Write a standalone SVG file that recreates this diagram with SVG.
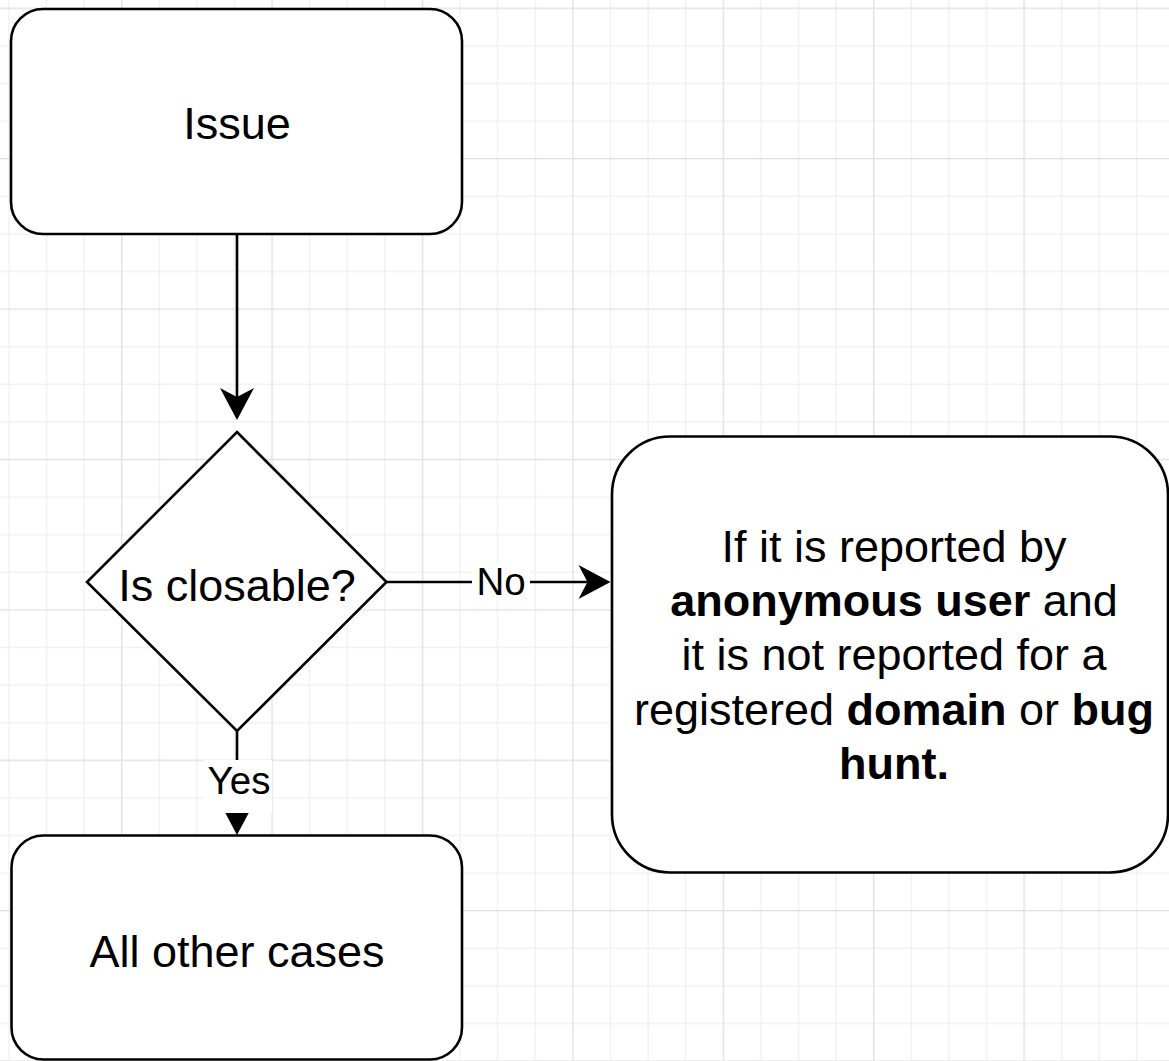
<svg xmlns="http://www.w3.org/2000/svg" width="1169" height="1061" viewBox="0 0 1169 1061">
  <style>
    .node { fill: #ffffff; stroke: #000000; stroke-width: 2.6; }
    .edge { fill: none; stroke: #000000; stroke-width: 2.6; }
    .label { font-family: "Liberation Sans", Arial, Helvetica, sans-serif; fill: #000000; text-anchor: middle; }
    .big { font-size: 45px; }
    .small { font-size: 38.5px; }
    .b { font-weight: bold; }
    .bg { fill: #ffffff; stroke: none; }
  </style>
  <defs>
    <!-- drawing-board grid: minor every 37.6, major every 4th -->
    <pattern id="grid" patternUnits="userSpaceOnUse" x="121" y="7.6" width="150.4" height="150.4">
      <rect x="0" y="0" width="150.4" height="150.4" fill="#ffffff"/>
      <rect x="37.6" y="0" width="1.4" height="150.4" fill="#f1f1f1"/>
      <rect x="75.2" y="0" width="1.4" height="150.4" fill="#f1f1f1"/>
      <rect x="112.8" y="0" width="1.4" height="150.4" fill="#f1f1f1"/>
      <rect x="0" y="37.6" width="150.4" height="1.4" fill="#f1f1f1"/>
      <rect x="0" y="75.2" width="150.4" height="1.4" fill="#f1f1f1"/>
      <rect x="0" y="112.8" width="150.4" height="1.4" fill="#f1f1f1"/>
      <rect x="0" y="0" width="1.4" height="150.4" fill="#e2e2e2"/>
      <rect x="0" y="0" width="150.4" height="1.4" fill="#e2e2e2"/>
    </pattern>
    <!-- classic arrowhead, reference point at the notch -->
    <marker id="arrow" markerUnits="userSpaceOnUse" markerWidth="34" markerHeight="36" refX="9" refY="17" orient="auto" overflow="visible">
      <path d="M0,0 L32,17 L0,34 L9,17 Z" fill="#000000" stroke="none"/>
    </marker>
  </defs>

  <rect x="0" y="0" width="1169" height="1061" fill="url(#grid)"/>

  <g id="connectors">
    <path id="edge-issue-closable" class="edge" d="M237,234 L237,397" marker-end="url(#arrow)"/>
    <g id="edge-no">
      <path class="edge" d="M386.5,582 L587.5,582" marker-end="url(#arrow)"/>
      <rect class="bg" x="472" y="565" width="58" height="36"/>
      <text class="label small" x="501" y="595">No</text>
    </g>
    <g id="edge-yes">
      <path class="edge" d="M237,731 L237,812" marker-end="url(#arrow)"/>
      <rect class="bg" x="204" y="760" width="68" height="53"/>
      <text class="label small" x="239" y="794">Yes</text>
    </g>
  </g>

  <g id="node-issue">
    <rect class="node" x="11" y="9" width="451" height="225" rx="32" ry="32"/>
    <text class="label big" x="237" y="139">Issue</text>
  </g>

  <g id="node-closable">
    <polygon class="node" points="237,432 386.5,582 237,731 87,582"/>
    <text class="label big" x="237" y="601">Is closable?</text>
  </g>

  <g id="node-anonymous">
    <rect class="node" x="612" y="436.5" width="556" height="436" rx="58" ry="58"/>
    <text class="label big" x="894" y="562">If it is reported by</text>
    <text class="label big" x="894" y="616"><tspan class="b">anonymous user</tspan> and</text>
    <text class="label big" x="894" y="670">it is not reported for a</text>
    <text class="label big" x="894" y="724.5">registered <tspan class="b">domain</tspan> or <tspan class="b">bug</tspan></text>
    <text class="label big b" x="894" y="778.5">hunt.</text>
  </g>

  <g id="node-other">
    <rect class="node" x="11.5" y="835.5" width="450.5" height="224" rx="32" ry="32"/>
    <text class="label big" x="237" y="966.5">All other cases</text>
  </g>
</svg>
